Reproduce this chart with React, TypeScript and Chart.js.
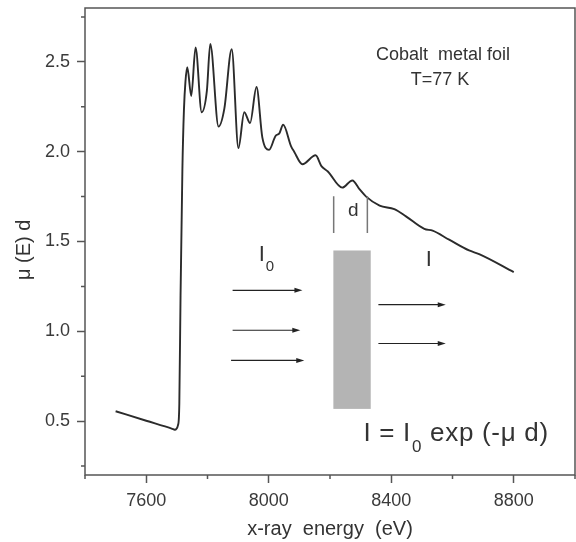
import { useEffect, useRef } from "react";
import { Chart, registerables } from "chart.js";

Chart.register(...registerables);

// ---- data ----
const energy = [
  7500, 7600, 7685, 7693, 7704, 7708, 7712, 7718, 7723, 7728, 7734, 7747, 7761, 7781, 7798, 7809,
  7836, 7855, 7879, 7901, 7920, 7939, 7960, 7979, 8001, 8023, 8034, 8047, 8073, 8083, 8110,
  8153, 8172, 8193, 8240, 8273, 8297, 8318, 8362, 8410, 8448, 8508, 8535, 8589, 8654, 8687, 8800,
];
const mu = [
  0.555, 0.502, 0.457, 0.452, 0.48, 0.6, 1.2, 1.9, 2.23, 2.39, 2.47, 2.31, 2.58, 2.22, 2.34, 2.6,
  2.14, 2.24, 2.57, 2.02, 2.22, 2.16, 2.36, 2.08, 2.01, 2.09, 2.1, 2.15, 2.03, 2.0, 1.93,
  1.98, 1.92, 1.89, 1.8, 1.84, 1.79, 1.75, 1.7, 1.68, 1.64, 1.57, 1.56, 1.51, 1.45, 1.43, 1.33,
];

const xMajorTicks = [7600, 8000, 8400, 8800];
const xMinorTicks = [7400, 7800, 8200, 8600, 9000];
const yMajorTicks = [0.5, 1.0, 1.5, 2.0, 2.5];
const yMinorTicks = [0.25, 0.75, 1.25, 1.75, 2.25, 2.75];

const xTitle = "x-ray  energy  (eV)";
const yTitle = "μ (E) d   ";
const sampleLines = ["Cobalt  metal foil", "T=77 K"];

// ---- schematic annotation geometry (data units) ----
const sampleLabelPos = [
  [8569, 2.54],
  [8559, 2.40],
];
const incidentArrows = [
  [7882, 8110, 1.228],
  [7882, 8103, 1.006],
  [7877, 8116, 0.838],
];
const transmittedArrows = [
  [8358, 8578, 1.148],
  [8358, 8578, 0.932],
];
const foilRect = [8211, 8333, 0.568, 1.45];
const bracketLines = [8212, 8322, 1.547, 1.752];
const dLabelPos = [8276, 1.672];
const i0LabelPos = [7967, 1.424];
const iLabelPos = [8523, 1.399];
const formulaPos = [8309, 0.43];

const FONT = "'Liberation Sans', Arial, sans-serif";
const AXIS = "#555";
const TEXT = "#333";

function drawSubText(ctx: CanvasRenderingContext2D, x: number, y: number, main: string, sub: string, rest: string, size: number, subSize: number, spacing: number) {
  ctx.textAlign = "left";
  ctx.textBaseline = "middle";
  (ctx as any).letterSpacing = spacing + "px";
  ctx.font = `${size}px ${FONT}`;
  ctx.fillText(main, x, y);
  let cx = x + ctx.measureText(main).width + 1;
  ctx.font = `${subSize}px ${FONT}`;
  ctx.fillText(sub, cx, y + size * 0.52);
  cx += ctx.measureText(sub).width;
  if (rest) {
    ctx.font = `${size}px ${FONT}`;
    ctx.fillText(rest, cx, y);
  }
  (ctx as any).letterSpacing = "0px";
}

const overlay = {
  id: "overlay",
  afterDraw(chart: any) {
    const { ctx, chartArea: a } = chart;
    const xs = chart.scales.x;
    const ys = chart.scales.y;
    const X = (v: number) => xs.getPixelForValue(v);
    const Y = (v: number) => ys.getPixelForValue(v);
    ctx.save();

    // frame
    ctx.strokeStyle = AXIS;
    ctx.lineWidth = 1.5;
    ctx.strokeRect(a.left, a.top, a.right - a.left, a.bottom - a.top);

    // minor ticks
    ctx.beginPath();
    xMinorTicks.forEach((v) => {
      const p = X(v);
      ctx.moveTo(p, a.bottom);
      ctx.lineTo(p, a.bottom + 4);
    });
    yMinorTicks.forEach((v) => {
      const p = Y(v);
      ctx.moveTo(a.left, p);
      ctx.lineTo(a.left - 4, p);
    });
    ctx.stroke();

    // sample label
    ctx.fillStyle = TEXT;
    ctx.font = `18px ${FONT}`;
    ctx.textAlign = "center";
    ctx.textBaseline = "middle";
    sampleLines.forEach((t, i) => ctx.fillText(t, X(sampleLabelPos[i][0]), Y(sampleLabelPos[i][1])));

    // foil
    ctx.fillStyle = "#b4b4b4";
    ctx.fillRect(X(foilRect[0]), Y(foilRect[3]), X(foilRect[1]) - X(foilRect[0]), Y(foilRect[2]) - Y(foilRect[3]));

    // thickness bracket
    ctx.strokeStyle = "#777";
    ctx.lineWidth = 1.5;
    ctx.beginPath();
    [bracketLines[0], bracketLines[1]].forEach((v) => {
      ctx.moveTo(X(v), Y(bracketLines[2]));
      ctx.lineTo(X(v), Y(bracketLines[3]));
    });
    ctx.stroke();
    ctx.fillStyle = TEXT;
    ctx.font = `19px ${FONT}`;
    ctx.textAlign = "center";
    ctx.fillText("d", X(dLabelPos[0]), Y(dLabelPos[1]));

    // arrows
    ctx.strokeStyle = "#222";
    ctx.fillStyle = "#222";
    ctx.lineWidth = 1.2;
    [...incidentArrows, ...transmittedArrows].forEach(([x0, x1, yv]) => {
      const px0 = X(x0);
      const px1 = X(x1);
      const py = Y(yv);
      ctx.beginPath();
      ctx.moveTo(px0, py);
      ctx.lineTo(px1 - 6, py);
      ctx.stroke();
      ctx.beginPath();
      ctx.moveTo(px1, py);
      ctx.lineTo(px1 - 8, py - 2.5);
      ctx.lineTo(px1 - 8, py + 2.5);
      ctx.closePath();
      ctx.fill();
    });

    // intensity labels
    ctx.fillStyle = TEXT;
    drawSubText(ctx, X(i0LabelPos[0]), Y(i0LabelPos[1]), "I", "0", "", 22, 15, 0);
    ctx.font = `22px ${FONT}`;
    ctx.textAlign = "center";
    ctx.textBaseline = "middle";
    ctx.fillText("I", X(iLabelPos[0]), Y(iLabelPos[1]));

    // formula
    drawSubText(ctx, X(formulaPos[0]), Y(formulaPos[1]), "I = I", "0", " exp (-μ d)", 26, 17, 0.7);

    ctx.restore();
  },
};

export default function App() {
  const ref = useRef<HTMLCanvasElement | null>(null);
  useEffect(() => {
    if (!ref.current) return;
    const chart = new Chart(ref.current, {
      type: "line",
      data: {
        datasets: [
          {
            data: energy.map((e, i) => ({ x: e, y: mu[i] })),
            borderColor: "#2b2b2b",
            borderWidth: 1.9,
            pointRadius: 0,
            fill: false,
            cubicInterpolationMode: "monotone",
          },
        ],
      },
      options: {
        responsive: false,
        animation: false,
        devicePixelRatio: 1,
        layout: { padding: { top: 8, right: 1, left: 0, bottom: 0 } },
        plugins: { legend: { display: false }, tooltip: { enabled: false } },
        scales: {
          x: {
            type: "linear",
            min: 7400,
            max: 9000,
            afterBuildTicks: (s: any) => {
              s.ticks = xMajorTicks.map((v) => ({ value: v }));
            },
            afterFit: (s: any) => {
              s.height = 67;
              s.paddingLeft = 0;
              s.paddingRight = 0;
            },
            border: { display: false },
            grid: { drawOnChartArea: false, tickLength: 8, tickColor: AXIS, tickWidth: 1.5 },
            ticks: { color: "#3a3a3a", font: { family: FONT, size: 18 }, padding: 7, maxRotation: 0, callback: (v: any) => String(v) },
            title: { display: true, text: xTitle, color: TEXT, font: { family: FONT, size: 20 }, padding: { top: 0, bottom: 1 } },
          },
          y: {
            type: "linear",
            min: 0.2,
            max: 2.8,
            afterBuildTicks: (s: any) => {
              s.ticks = yMajorTicks.map((v) => ({ value: v }));
            },
            afterFit: (s: any) => {
              s.width = 85;
              s.paddingTop = 0;
              s.paddingBottom = 0;
            },
            border: { display: false },
            grid: { drawOnChartArea: false, tickLength: 8, tickColor: AXIS, tickWidth: 1.5 },
            ticks: { color: "#3a3a3a", font: { family: FONT, size: 18 }, padding: 7, callback: (v: any) => Number(v).toFixed(1) },
            title: { display: true, text: yTitle, color: TEXT, font: { family: FONT, size: 20 }, padding: { top: 12, bottom: 0 } },
          },
        },
      },
      plugins: [overlay],
    } as any);
    return () => chart.destroy();
  }, []);
  return (
    <div style={{ position: "absolute", left: 0, top: 0, width: 576, height: 542, background: "#fff" }}>
      <canvas ref={ref} width={576} height={542} />
    </div>
  );
}
